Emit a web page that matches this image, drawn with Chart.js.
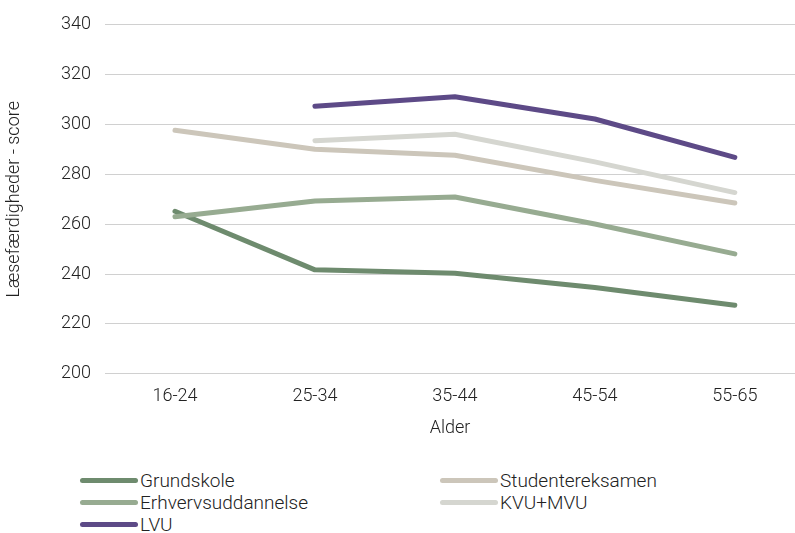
<!DOCTYPE html>
<html>
<head>
<meta charset="utf-8">
<script src="https://cdn.jsdelivr.net/npm/chart.js@4/dist/chart.umd.min.js"></script>
<style>
  body { margin: 0; background: #fff; font-family: Roboto, sans-serif; }
  #wrap { position: relative; width: 795px; height: 533px; }
  #box { position: absolute; left: 0; top: 0; width: 795px; height: 439px; }
  #legend { position: absolute; left: 80px; top: 469px; width: 700px; }
  .item { position: absolute; height: 22px; display: flex; align-items: center; font-size: 19px; font-weight: 300; color: #222; }
  .item span.sw { display: inline-block; width: 58px; height: 5px; border-radius: 3px; margin-right: 2px; }
</style>
</head>
<body>
<div id="wrap">
  <div id="box"><canvas id="myChart"></canvas></div>
  <div id="legend"></div>
</div>
<script>
const ages = ['16-24', '25-34', '35-44', '45-54', '55-65']
const names = ['Grundskole', 'Erhvervsuddannelse', 'Studentereksamen', 'KVU+MVU', 'LVU']
const colors = ['#6e8b6e', '#97ab91', '#ccc6ba', '#d5d6d0', '#5d4a87']

const grundskole = [265.2, 241.7, 240.3, 234.6, 227.5]
const erhverv = [263.0, 269.3, 270.9, 260.1, 248.1]
const student = [297.7, 290.1, 287.7, 277.6, 268.5]
const kvu = [null, 293.5, 296.1, 285.0, 272.7]
const lvu = [null, 307.3, 311.1, 302.2, 286.8]

const series = [grundskole, erhverv, student, kvu, lvu]
// light lines first so the darker ones sit on top
const drawOrder = [3, 2, 1, 0, 4]

const font = { family: 'Roboto', size: 18, weight: 300 }

const datasets = drawOrder.map(i => ({
  label: names[i],
  data: series[i].map((v, k) => ({ x: k, y: v })),
  borderColor: colors[i],
  backgroundColor: colors[i],
  borderWidth: 5,
  pointRadius: 0,
  borderCapStyle: 'round',
  borderJoinStyle: 'round',
  tension: 0
}))

const ctx = document.getElementById('myChart')
new Chart(ctx, {
  type: 'line',
  data: { datasets },
  options: {
    responsive: true,
    maintainAspectRatio: false,
    animation: false,
    layout: { padding: { top: 8, right: 0, left: 0, bottom: 0 } },
    plugins: { legend: { display: false }, tooltip: { enabled: false } },
    scales: {
      x: {
        type: 'linear',
        min: -0.5,
        max: 4.43,
        afterBuildTicks: (s) => { s.ticks = ages.map((a, k) => ({ value: k })) },
        ticks: { callback: (v) => ages[v], color: '#222', font, padding: 4 },
        grid: { display: false },
        border: { display: false },
        title: { display: true, text: 'Alder', color: '#222', font, padding: { top: 6, bottom: 0 } }
      },
      y: {
        min: 200,
        max: 340,
        ticks: { stepSize: 20, color: '#222', font, padding: 14 },
        grid: { color: '#d0d0d0', lineWidth: 1, drawTicks: false },
        border: { display: false },
        afterFit: (s) => { s.width = 105 },
        title: { display: true, text: 'Læsefærdigheder - score', color: '#222', font, padding: { bottom: 4 } }
      }
    }
  }
})

// two-column legend like the source
const legendPos = [[0, 0], [0, 22], [360, 0], [360, 22], [0, 44]]
const legend = document.getElementById('legend')
names.forEach((n, i) => {
  const el = document.createElement('div')
  el.className = 'item'
  el.style.left = legendPos[i][0] + 'px'
  el.style.top = legendPos[i][1] + 'px'
  el.innerHTML = `<span class="sw" style="background:${colors[i]}"></span>${n}`
  legend.append(el)
})
</script>
</body>
</html>
